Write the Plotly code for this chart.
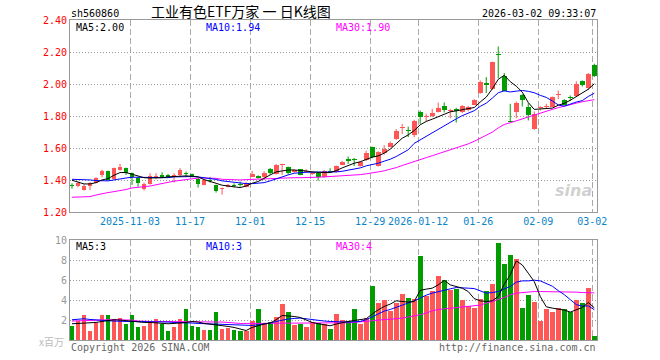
import numpy as np
import pandas as pd
import plotly.graph_objects as go

# ---------------- data ----------------
HOLIDAYS = ["2026-01-01", "2026-01-02", "2026-02-16", "2026-02-17", "2026-02-18",
            "2026-02-19", "2026-02-20", "2026-02-23"]
DATES = [d.strftime("%Y-%m-%d") for d in pd.bdate_range("2025-10-20", "2026-03-02")
         if d.strftime("%Y-%m-%d") not in HOLIDAYS]

OPEN = [1.366, 1.364, 1.339, 1.364, 1.385, 1.435, 1.458, 1.406, 1.464, 1.475,
        1.444, 1.416, 1.344, 1.377, 1.421, 1.435, 1.433, 1.419, 1.431, 1.444,
        1.437, 1.410, 1.373, 1.400, 1.369, 1.344, 1.360, 1.371, 1.375, 1.360,
        1.423, 1.427, 1.419, 1.473, 1.440, 1.498, 1.483, 1.452, 1.469, 1.452,
        1.440, 1.448, 1.419, 1.456, 1.452, 1.498, 1.531, 1.529, 1.492, 1.527,
        1.606, 1.489, 1.569, 1.610, 1.656, 1.727, 1.714, 1.683, 1.827, 1.792,
        1.798, 1.829, 1.864, 1.831, 1.842, 1.823, 1.839, 1.871, 1.944, 2.006,
        1.969, 2.187, 2.052, 1.767, 1.829, 1.933, 1.856, 1.719, 1.848, 1.858,
        1.860, 1.929, 1.898, 1.921, 1.923, 2.017, 1.975, 2.121]
HIGH = [1.381, 1.393, 1.375, 1.389, 1.419, 1.466, 1.460, 1.479, 1.502, 1.479,
        1.448, 1.421, 1.385, 1.444, 1.444, 1.450, 1.440, 1.444, 1.477, 1.454,
        1.442, 1.414, 1.406, 1.421, 1.373, 1.354, 1.377, 1.381, 1.392, 1.389,
        1.458, 1.431, 1.456, 1.477, 1.502, 1.502, 1.485, 1.469, 1.471, 1.469,
        1.456, 1.452, 1.464, 1.475, 1.492, 1.521, 1.548, 1.539, 1.521, 1.585,
        1.610, 1.581, 1.619, 1.642, 1.719, 1.752, 1.735, 1.777, 1.835, 1.815,
        1.846, 1.885, 1.885, 1.844, 1.852, 1.869, 1.864, 1.906, 2.023, 2.044,
        2.140, 2.235, 2.069, 1.877, 1.892, 1.937, 1.881, 1.829, 1.862, 1.877,
        1.923, 1.960, 1.906, 1.929, 2.017, 2.023, 2.069, 2.127]
LOW = [1.348, 1.356, 1.335, 1.339, 1.381, 1.419, 1.398, 1.402, 1.460, 1.433,
       1.371, 1.360, 1.335, 1.373, 1.406, 1.414, 1.415, 1.385, 1.423, 1.419,
       1.419, 1.354, 1.369, 1.385, 1.323, 1.310, 1.356, 1.356, 1.360, 1.356,
       1.419, 1.410, 1.402, 1.435, 1.435, 1.433, 1.435, 1.448, 1.431, 1.446,
       1.433, 1.398, 1.415, 1.446, 1.448, 1.494, 1.502, 1.489, 1.485, 1.519,
       1.537, 1.485, 1.560, 1.606, 1.652, 1.689, 1.669, 1.669, 1.752, 1.767,
       1.794, 1.823, 1.823, 1.787, 1.760, 1.819, 1.831, 1.869, 1.940, 1.944,
       1.964, 2.037, 1.954, 1.760, 1.787, 1.860, 1.773, 1.714, 1.835, 1.846,
       1.856, 1.906, 1.866, 1.894, 1.919, 1.985, 1.964, 2.044]
CLOSE = [1.362, 1.385, 1.366, 1.381, 1.414, 1.458, 1.402, 1.477, 1.485, 1.448,
         1.423, 1.381, 1.379, 1.427, 1.425, 1.423, 1.421, 1.433, 1.462, 1.440,
         1.425, 1.377, 1.402, 1.394, 1.335, 1.348, 1.371, 1.366, 1.369, 1.381,
         1.442, 1.414, 1.448, 1.444, 1.496, 1.500, 1.448, 1.464, 1.435, 1.460,
         1.448, 1.423, 1.460, 1.452, 1.489, 1.517, 1.523, 1.525, 1.515, 1.573,
         1.544, 1.577, 1.598, 1.635, 1.710, 1.733, 1.706, 1.771, 1.794, 1.798,
         1.819, 1.848, 1.839, 1.835, 1.835, 1.864, 1.858, 1.902, 2.014, 1.992,
         2.137, 2.183, 1.960, 1.762, 1.885, 1.902, 1.810, 1.815, 1.854, 1.862,
         1.919, 1.935, 1.871, 1.914, 2.000, 1.992, 2.064, 2.048]

MA5 = [1.400, 1.390, 1.377, 1.377, 1.385, 1.402, 1.410, 1.431, 1.448, 1.448,
       1.437, 1.423, 1.416, 1.414, 1.414, 1.416, 1.421, 1.423, 1.427, 1.427,
       1.425, 1.421, 1.404, 1.394, 1.381, 1.369, 1.364, 1.360, 1.354, 1.364,
       1.381, 1.392, 1.414, 1.433, 1.452, 1.460, 1.464, 1.464, 1.462, 1.458,
       1.452, 1.448, 1.448, 1.448, 1.460, 1.477, 1.494, 1.506, 1.515, 1.531,
       1.544, 1.552, 1.569, 1.594, 1.631, 1.662, 1.683, 1.710, 1.746, 1.767,
       1.781, 1.798, 1.814, 1.827, 1.833, 1.839, 1.844, 1.854, 1.888, 1.919,
       1.970, 2.030, 2.055, 2.015, 1.987, 1.950, 1.885, 1.842, 1.845, 1.848,
       1.850, 1.868, 1.880, 1.899, 1.923, 1.943, 1.968, 2.002]
MA10 = [1.406, 1.406, 1.406, 1.402, 1.398, 1.396, 1.396, 1.402, 1.410, 1.414,
        1.419, 1.419, 1.419, 1.419, 1.419, 1.416, 1.416, 1.421, 1.423, 1.423,
        1.423, 1.421, 1.417, 1.412, 1.405, 1.396, 1.392, 1.385, 1.381, 1.379,
        1.379, 1.381, 1.385, 1.396, 1.410, 1.421, 1.433, 1.444, 1.448, 1.450,
        1.450, 1.450, 1.450, 1.450, 1.452, 1.456, 1.462, 1.469, 1.477, 1.490,
        1.498, 1.506, 1.519, 1.531, 1.548, 1.569, 1.590, 1.630, 1.652, 1.672,
        1.696, 1.720, 1.742, 1.765, 1.783, 1.803, 1.820, 1.834, 1.861, 1.881,
        1.912, 1.946, 1.958, 1.951, 1.956, 1.960, 1.955, 1.946, 1.930, 1.917,
        1.895, 1.870, 1.862, 1.877, 1.888, 1.897, 1.923, 1.943]
MA30 = [1.294, 1.294, 1.294, 1.298, 1.308, 1.317, 1.323, 1.329, 1.335, 1.342,
        1.352, 1.358, 1.360, 1.364, 1.373, 1.381, 1.387, 1.394, 1.400, 1.406,
        1.410, 1.414, 1.414, 1.414, 1.412, 1.406, 1.404, 1.402, 1.402, 1.404,
        1.406, 1.408, 1.410, 1.412, 1.414, 1.414, 1.416, 1.416, 1.416, 1.416,
        1.416, 1.419, 1.421, 1.423, 1.425, 1.427, 1.431, 1.433, 1.435, 1.440,
        1.444, 1.452, 1.459, 1.467, 1.479, 1.492, 1.503, 1.517, 1.529, 1.541,
        1.553, 1.565, 1.577, 1.590, 1.602, 1.614, 1.627, 1.643, 1.661, 1.679,
        1.700, 1.727, 1.748, 1.759, 1.771, 1.783, 1.796, 1.810, 1.820, 1.830,
        1.842, 1.853, 1.861, 1.871, 1.881, 1.890, 1.898, 1.903]

VOLUME = [1.36, 1.93, 2.46, 0.93, 1.66, 2.46, 2.46, 2.13, 2.23, 1.56,
          2.46, 1.26, 1.36, 1.86, 2.13, 1.60, 0.93, 1.26, 2.13, 3.13,
          1.36, 1.26, 1.03, 1.03, 2.83, 1.10, 1.16, 1.03, 0.86, 0.86,
          1.93, 3.13, 1.66, 1.80, 2.33, 3.66, 2.83, 1.46, 1.56, 1.26,
          1.80, 1.66, 1.56, 1.13, 2.63, 2.03, 1.93, 3.13, 1.63, 2.20,
          5.43, 3.73, 4.03, 2.93, 3.73, 4.63, 4.23, 4.13, 8.43, 4.43,
          4.93, 6.43, 6.03, 5.03, 5.13, 4.03, 3.43, 3.23, 4.13, 4.93,
          5.63, 9.73, 7.63, 8.53, 8.13, 3.23, 4.53, 3.83, 1.93, 3.13,
          2.83, 3.23, 3.13, 2.83, 3.99, 3.73, 5.23, 0.36]
VOL_MA5 = [1.63, 1.66, 1.66, 1.70, 1.76, 1.86, 1.96, 2.03, 2.00, 1.93,
           1.86, 1.80, 1.76, 1.76, 1.70, 1.63, 1.63, 1.66, 1.70, 1.76,
           1.86, 1.80, 1.66, 1.60, 1.53, 1.43, 1.36, 1.26, 1.10, 0.95,
           1.26, 1.46, 1.60, 1.70, 2.03, 2.46, 2.43, 2.36, 2.26, 2.03,
           1.76, 1.63, 1.53, 1.43, 1.60, 1.76, 1.86, 1.96, 2.03, 2.13,
           2.60, 3.03, 3.36, 3.60, 3.93, 3.86, 3.80, 3.86, 4.98, 5.10,
           5.20, 5.53, 5.98, 5.53, 5.40, 5.20, 4.86, 4.15, 3.93, 3.86,
           3.93, 4.36, 5.60, 6.53, 7.93, 7.53, 6.70, 5.86, 4.36, 3.33,
           3.20, 3.13, 3.00, 2.80, 3.03, 3.26, 3.76, 3.23]
VOL_MA10 = [2.03, 2.10, 2.13, 2.06, 2.00, 1.96, 1.93, 1.90, 1.86, 1.86,
            1.86, 1.86, 1.83, 1.80, 1.80, 1.80, 1.80, 1.76, 1.76, 1.73,
            1.70, 1.66, 1.63, 1.63, 1.60, 1.60, 1.56, 1.53, 1.50, 1.46,
            1.46, 1.53, 1.60, 1.70, 1.86, 2.00, 2.10, 2.16, 2.20, 2.13,
            2.03, 1.96, 1.90, 1.86, 1.83, 1.80, 1.80, 1.83, 1.86, 2.03,
            2.30, 2.60, 2.90, 3.06, 3.26, 3.46, 3.70, 3.93, 4.20, 4.50,
            4.70, 4.86, 5.00, 5.13, 5.26, 5.20, 5.20, 5.16, 4.93, 4.70,
            4.76, 4.86, 5.13, 5.36, 5.80, 5.93, 5.93, 6.00, 5.93, 5.70,
            5.40, 4.95, 4.55, 4.05, 3.55, 3.40, 3.42, 3.04]
VOL_MA30 = [1.90, 1.93, 1.96, 2.00, 2.00, 2.03, 2.03, 2.03, 2.03, 2.03,
            2.00, 1.90, 1.86, 1.86, 1.86, 1.86, 1.86, 1.86, 1.86, 1.86,
            1.86, 1.86, 1.86, 1.86, 1.86, 1.80, 1.76, 1.70, 1.66, 1.66,
            1.66, 1.66, 1.66, 1.66, 1.66, 1.66, 1.66, 1.66, 1.66, 1.66,
            1.66, 1.66, 1.66, 1.66, 1.66, 1.70, 1.73, 1.76, 1.80, 1.83,
            1.93, 2.00, 2.03, 2.06, 2.13, 2.20, 2.30, 2.36, 2.53, 2.70,
            2.93, 3.06, 3.13, 3.20, 3.26, 3.36, 3.40, 3.46, 3.50, 3.70,
            3.86, 4.06, 4.26, 4.53, 4.70, 4.76, 4.83, 4.86, 4.86, 4.86,
            4.86, 4.86, 4.83, 4.83, 4.80, 4.76, 4.76, 4.73]

TICK_DATES = ["2025-11-03", "2025-11-17", "2025-12-01", "2025-12-15", "2025-12-29",
              "2026-01-12", "2026-01-26", "2026-02-09", "2026-03-02"]
TICK_TEXT = ["2025-11-03", "11-17", "12-01", "12-15", "12-29",
             "2026-01-12", "01-26", "02-09", "03-02"]
PRICE_TICKS = [1.20, 1.40, 1.60, 1.80, 2.00, 2.20, 2.40]
VOL_TICKS = [2, 4, 6, 8, 10]

CODE = "sh560860"
TITLE = "工业有色ETF万家\u00a0一\u00a0日K线图"
STAMP = "2026-03-02 09:33:07"

# ---------------- styling ----------------
RED = "#ff5656"
GREEN = "#009c00"
MONO = "DejaVu Sans Mono"
CJK = "Noto Sans CJK SC"
OFF = 1.0 / 3.0          # candle centre offset inside its day slot
BODY_W = 0.8
MIN_BODY = 0.0065        # ~1px so doji crosses stay visible

n = len(DATES)
slot = np.arange(n)
xc = slot + OFF
o = np.array(OPEN); c = np.array(CLOSE); h = np.array(HIGH); l = np.array(LOW)
up = c >= o
colors = np.where(up, RED, GREEN)
base = np.minimum(o, c)
body = np.maximum(np.abs(c - o), MIN_BODY)
tick_pos = [DATES.index(d) for d in TICK_DATES]

fig = go.Figure()

# wicks
for mask, col in ((up, RED), (~up, GREEN)):
    xs, ys = [], []
    for i in np.where(mask)[0]:
        xs += [xc[i], xc[i], None]
        ys += [l[i], h[i], None]
    fig.add_trace(go.Scatter(x=xs, y=ys, mode="lines", line=dict(color=col, width=1),
                             hoverinfo="skip", showlegend=False, xaxis="x", yaxis="y"))
# bodies
fig.add_trace(go.Bar(x=xc, y=body, base=base, width=BODY_W, marker=dict(color=colors, line=dict(width=0)),
                     showlegend=False, xaxis="x", yaxis="y", hoverinfo="skip"))
# price MAs
for arr, col in ((MA30, "#ff00ff"), (MA10, "#0000ff"), (MA5, "#000000")):
    fig.add_trace(go.Scatter(x=xc, y=arr, mode="lines", line=dict(color=col, width=1),
                             showlegend=False, xaxis="x", yaxis="y", hoverinfo="skip"))
# volume
fig.add_trace(go.Bar(x=xc, y=VOLUME, width=BODY_W, marker=dict(color=colors, line=dict(width=0)),
                     showlegend=False, xaxis="x2", yaxis="y2", hoverinfo="skip"))
for arr, col in ((VOL_MA30, "#ff00ff"), (VOL_MA10, "#0000ff"), (VOL_MA5, "#000000")):
    fig.add_trace(go.Scatter(x=xc, y=arr, mode="lines", line=dict(color=col, width=1),
                             showlegend=False, xaxis="x2", yaxis="y2", hoverinfo="skip"))

W, H = 660, 360
ML, MR, MT, MB = 70, 63, 20, 20
PW, PH = W - ML - MR, H - MT - MB


def px(xp):
    return (xp - ML) / PW


def py(yp):
    return (H - MB - yp) / PH


XRANGE = [0, (597 - 70.3) / 6.0]
grid_v = dict(showgrid=True, gridcolor="#aaaaaa", griddash="6px,3px", gridwidth=1)
common_x = dict(range=XRANGE, tickmode="array", tickvals=tick_pos, showline=True, linecolor="#999999",
                linewidth=1, mirror=True, zeroline=False, ticks="", fixedrange=True, **grid_v)

fig.update_layout(
    width=W, height=H, margin=dict(l=ML, r=MR, t=MT, b=MB, pad=0),
    paper_bgcolor="white", plot_bgcolor="white", barmode="overlay", bargap=0,
    showlegend=False,
    xaxis=dict(domain=[0, 1], anchor="y", ticktext=TICK_TEXT,
               tickfont=dict(family=MONO, size=10, color="#0a84c8"), **common_x),
    xaxis2=dict(domain=[0, 1], anchor="y2", showticklabels=False, **common_x),
    yaxis=dict(domain=[py(212.3), 1], range=[1.2, 2.4], tickmode="array", tickvals=PRICE_TICKS,
               tickformat=".2f", tickfont=dict(family=MONO, size=10, color="#ff0000"),
               showgrid=True, gridcolor="#999999", griddash="1px,2px", showline=True,
               linecolor="#999999", mirror=True, zeroline=False, ticks="", fixedrange=True),
    yaxis2=dict(domain=[0, py(240.3)], range=[0, 10], tickmode="array", tickvals=VOL_TICKS,
                tickfont=dict(family=MONO, size=10, color="#999999"),
                showgrid=True, gridcolor="#999999", griddash="1px,2px", showline=True,
                linecolor="#999999", mirror=True, zeroline=False, ticks="", fixedrange=True),
)

ann = []


def text(x, y, s, color="#000000", size=10, family=MONO, anchor="left", height=None):
    a = dict(x=px(x), y=py(y), xref="paper", yref="paper", text=s, showarrow=False,
             xanchor=anchor, yanchor="middle", font=dict(family=family, size=size, color=color))
    if height:
        a["height"] = height
    ann.append(a)


text(69, 13, CODE, height=12)
text(149, 11, TITLE, size=14, family=CJK, height=16)
text(598, 13, STAMP, anchor="right", height=12)
text(74, 27.5, "MA5:%.2f" % MA5[-1], height=11)
text(204, 27.5, "MA10:%.2f" % MA10[-1], color="#0000ff", height=11)
text(334, 27.5, "MA30:%.2f" % MA30[-1], color="#ff00ff", height=11)
text(74, 246.5, "MA5:%d" % int(VOL_MA5[-1]), height=11)
text(204, 246.5, "MA10:%d" % int(VOL_MA10[-1]), color="#0000ff", height=11)
text(334, 246.5, "MA30:%d" % int(VOL_MA30[-1]), color="#ff00ff", height=11)
text(66, 341, "x百万", color="#bbbbbb", size=10, family=CJK, anchor="right")
text(69, 346.5, "Copyright 2026 SINA.COM", color="#666666", height=12)
text(598, 346.5, "http://finance.sina.com.cn", color="#666666", anchor="right", height=12)
ann.append(dict(x=px(573), y=py(190), xref="paper", yref="paper", text="<b><i>sina</i></b>",
                showarrow=False, xanchor="center", yanchor="middle",
                font=dict(family="DejaVu Sans", size=16, color="rgba(150,150,150,0.45)")))
fig.update_layout(annotations=ann)

fig.write_html("out.html", config={"displayModeBar": False, "staticPlot": True},
               post_script="document.body.style.margin='0';")
